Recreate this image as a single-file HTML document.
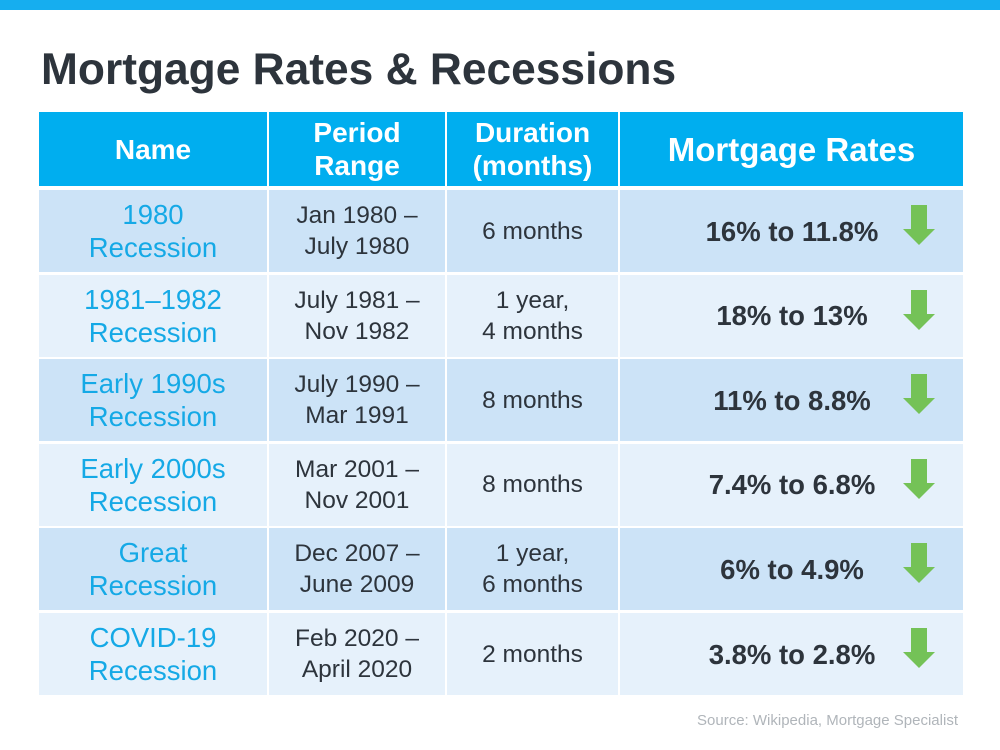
<!DOCTYPE html>
<html><head><meta charset="utf-8"><style>
*{margin:0;padding:0;box-sizing:border-box}
body{width:1000px;height:750px;background:#fff;position:relative;overflow:hidden;font-family:"Liberation Sans",Arial,sans-serif}
.bar{position:absolute;left:0;top:0;width:1000px;height:10px;background:#16aeef}
h1{position:absolute;left:41px;top:45px;font-size:44.3px;font-weight:bold;color:#2d343c}
.c{position:absolute;display:flex;align-items:center;justify-content:center;text-align:center;line-height:33px}
.h{background:#00aeef;color:#fff;font-weight:bold;font-size:28px;line-height:33px}
.n{color:#15a9e6;font-size:27.5px;line-height:33px}
.p{color:#2d343c;font-size:24.5px;line-height:31px}
.r{color:#2d343c;font-size:27.5px;font-weight:bold}
.arr{position:absolute;width:32px;height:40px}
.src{position:absolute;right:42px;top:712px;font-size:15px;color:#b0b5ba}
</style></head><body>
<div class="bar"></div>
<h1>Mortgage Rates &amp; Recessions</h1>
<div class="c h" style="left:39px;top:112px;width:228px;height:74px">Name</div>
<div class="c h" style="left:269px;top:112px;width:176px;height:74px">Period<br>Range</div>
<div class="c h" style="left:447px;top:112px;width:171px;height:74px">Duration<br>(months)</div>
<div class="c h" style="left:620px;top:112px;width:343px;height:74px;font-size:33px">Mortgage Rates</div>
<div id="rows"></div>
<script>
var d=[["1980<br>Recession","Jan 1980 –<br>July 1980","6 months","16% to 11.8%"],
["1981–1982<br>Recession","July 1981 –<br>Nov 1982","1 year,<br>4 months","18% to 13%"],
["Early 1990s<br>Recession","July 1990 –<br>Mar 1991","8 months","11% to 8.8%"],
["Early 2000s<br>Recession","Mar 2001 –<br>Nov 2001","8 months","7.4% to 6.8%"],
["Great<br>Recession","Dec 2007 –<br>June 2009","1 year,<br>6 months","6% to 4.9%"],
["COVID-19<br>Recession","Feb 2020 –<br>April 2020","2 months","3.8% to 2.8%"]];
var h="";
for(var i=0;i<6;i++){var t=190+i*84.6,ht=82,bg=i%2?"#e6f1fb":"#cce3f7";
h+='<div class="c n" style="left:39px;top:'+t+'px;width:228px;height:'+ht+'px;background:'+bg+'">'+d[i][0]+'</div>';
h+='<div class="c p" style="left:269px;top:'+t+'px;width:176px;height:'+ht+'px;background:'+bg+'">'+d[i][1]+'</div>';
h+='<div class="c p" style="left:447px;top:'+t+'px;width:171px;height:'+ht+'px;background:'+bg+'">'+d[i][2]+'</div>';
h+='<div class="c r" style="left:620px;top:'+t+'px;width:343px;height:'+ht+'px;background:'+bg+'"><span style="position:absolute;left:172px;transform:translateX(-50%);white-space:nowrap">'+d[i][3]+'</span></div>';
h+='<svg class="arr" style="left:903px;top:'+(t+15)+'px" viewBox="0 0 32 40"><polygon points="8,0 24,0 24,24 32,24 16,40 0,24 8,24" fill="#74c257"/></svg>';}
document.getElementById("rows").innerHTML=h;
</script>
<div class="src">Source: Wikipedia, Mortgage Specialist</div>
</body></html>
